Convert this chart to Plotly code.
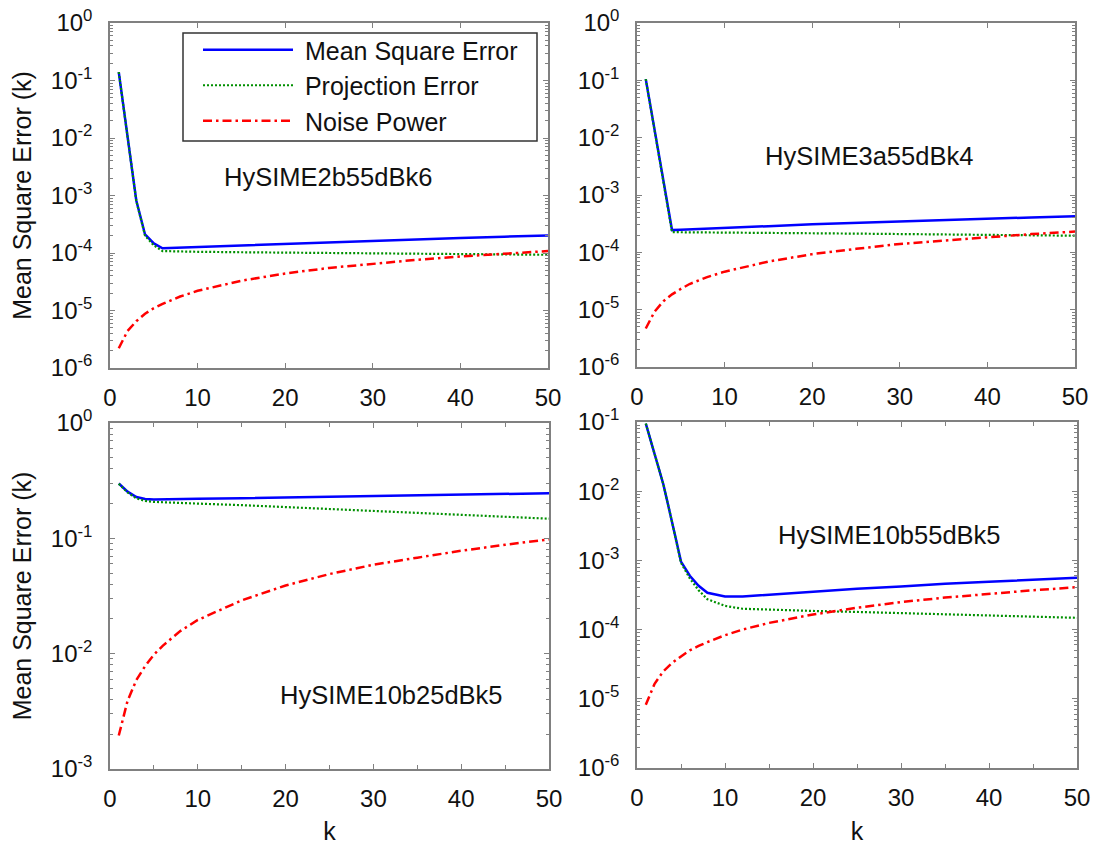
import plotly.graph_objects as go

# ---- HySIME2b55dBk6 ----
k_a = [1, 2, 3, 4, 5, 6, 8, 10, 15, 20, 25, 30, 35, 40, 45, 50]
mse_a = [0.14, 1.05e-2, 8.2e-4, 2.1e-4, 1.47e-4, 1.21e-4, 1.24e-4, 1.27e-4, 1.37e-4,
         1.46e-4, 1.55e-4, 1.64e-4, 1.73e-4, 1.83e-4, 1.92e-4, 2.01e-4]
proj_a = [0.14, 1.04e-2, 8.1e-4, 2.0e-4, 1.36e-4, 1.08e-4, 1.06e-4, 1.05e-4, 1.03e-4,
          1.02e-4, 1.0e-4, 9.9e-5, 9.75e-5, 9.6e-5, 9.45e-5, 9.3e-5]
noise_a = [2.2e-6, 4.4e-6, 6.5e-6, 8.8e-6, 1.1e-5, 1.3e-5, 1.75e-5, 2.2e-5, 3.3e-5,
           4.4e-5, 5.5e-5, 6.5e-5, 7.6e-5, 8.7e-5, 9.8e-5, 1.08e-4]

# ---- HySIME3a55dBk4 ----
k_b = [1, 2, 3, 4, 5, 6, 8, 10, 15, 20, 25, 30, 35, 40, 45, 50]
mse_b = [0.105, 1.35e-2, 1.76e-3, 2.44e-4, 2.47e-4, 2.5e-4, 2.57e-4, 2.66e-4, 2.86e-4,
         3.08e-4, 3.27e-4, 3.48e-4, 3.66e-4, 3.87e-4, 4.06e-4, 4.25e-4]
proj_b = [0.105, 1.35e-2, 1.75e-3, 2.25e-4, 2.24e-4, 2.23e-4, 2.21e-4, 2.2e-4, 2.17e-4,
          2.15e-4, 2.12e-4, 2.08e-4, 2.05e-4, 2.02e-4, 1.98e-4, 1.95e-4]
noise_b = [4.7e-6, 9.2e-6, 1.4e-5, 1.85e-5, 2.3e-5, 2.8e-5, 3.7e-5, 4.6e-5, 6.9e-5,
           9.3e-5, 1.15e-4, 1.4e-4, 1.6e-4, 1.85e-4, 2.08e-4, 2.3e-4]

# ---- HySIME10b25dBk5 ----
k_c = [1, 2, 3, 4, 5, 6, 8, 10, 15, 20, 25, 30, 35, 40, 45, 50]
mse_c = [0.299, 0.254, 0.228, 0.219, 0.217, 0.217, 0.218, 0.220, 0.223,
         0.226, 0.229, 0.233, 0.235, 0.239, 0.242, 0.246]
proj_c = [0.297, 0.250, 0.222, 0.211, 0.207, 0.205, 0.202, 0.200, 0.194,
          0.187, 0.180, 0.174, 0.167, 0.161, 0.154, 0.148]
noise_c = [1.95e-3, 3.9e-3, 5.9e-3, 7.8e-3, 9.8e-3, 1.17e-2, 1.57e-2, 1.96e-2, 2.9e-2,
           3.9e-2, 4.9e-2, 5.9e-2, 6.8e-2, 7.8e-2, 8.8e-2, 9.8e-2]

# ---- HySIME10b55dBk5 ----
k_d = [1, 2, 3, 4, 5, 6, 7, 8, 10, 12, 15, 20, 25, 30, 35, 40, 45, 50]
mse_d = [0.095, 3.4e-2, 1.25e-2, 3.5e-3, 9.6e-4, 6.0e-4, 4.3e-4, 3.4e-4, 3.0e-4, 3.0e-4,
         3.2e-4, 3.5e-4, 3.9e-4, 4.2e-4, 4.6e-4, 4.9e-4, 5.25e-4, 5.6e-4]
proj_d = [0.095, 3.4e-2, 1.25e-2, 3.5e-3, 9.2e-4, 5.5e-4, 3.7e-4, 2.75e-4, 2.2e-4, 2.0e-4,
          1.93e-4, 1.86e-4, 1.8e-4, 1.73e-4, 1.68e-4, 1.62e-4, 1.55e-4, 1.48e-4]
noise_d = [8.2e-6, 1.65e-5, 2.5e-5, 3.3e-5, 4.1e-5, 5.0e-5, 5.8e-5, 6.6e-5, 8.3e-5, 1.0e-4,
           1.25e-4, 1.65e-4, 2.07e-4, 2.5e-4, 2.9e-4, 3.3e-4, 3.7e-4, 4.1e-4]

panel_names = ["HySIME2b55dBk6", "HySIME3a55dBk4", "HySIME10b25dBk5", "HySIME10b55dBk5"]
series_names = ["Mean Square Error", "Projection Error", "Noise Power"]
x_ticks = [0, 10, 20, 30, 40, 50]
y_title = "Mean Square Error (k)"
x_title = "k"

panels = [
    (k_a, mse_a, proj_a, noise_a),
    (k_b, mse_b, proj_b, noise_b),
    (k_c, mse_c, proj_c, noise_c),
    (k_d, mse_d, proj_d, noise_d),
]
# decade exponent range for each panel's y axis
y_ranges = [(-6, 0), (-6, 0), (-3, 0), (-6, -1)]

FONT = "Arial, Liberation Sans, sans-serif"
W, H = 1096, 845

# pixel boxes of the four plot areas (left, right, top, bottom)
boxes = [(110, 548, 23, 368), (637, 1075, 23, 367),
         (110, 549, 423, 769), (637, 1077, 422, 768)]

styles = [
    dict(color="#0000ff", width=2.5, dash="solid"),
    dict(color="#009000", width=2.2, dash="2px,2px"),
    dict(color="#ff0000", width=2.5, dash="9px,4px,2.5px,4px"),
]

fig = go.Figure()
layout = dict(
    width=W, height=H,
    margin=dict(l=0, r=0, t=0, b=0, autoexpand=False),
    paper_bgcolor="white", plot_bgcolor="white",
    font=dict(family=FONT, size=24, color="#111111"),
    showlegend=True,
)

label_pos = [(0.498, 0.553), (0.529, 0.614), (0.642, 0.214), (0.574, 0.673)]
annotations = []

for i, (ks, mse, proj, noise) in enumerate(panels):
    n = i + 1
    xa = "x" if n == 1 else f"x{n}"
    ya = "y" if n == 1 else f"y{n}"
    for j, vals in enumerate([mse, proj, noise]):
        fig.add_trace(go.Scatter(
            x=ks, y=vals, mode="lines", name="\u00a0" + series_names[j],
            line=styles[j], xaxis=xa, yaxis=ya,
            showlegend=(i == 0),
        ))
    l, r, t, b = boxes[i]
    lo, hi = y_ranges[i]
    yvals = [10.0 ** e for e in range(lo, hi + 1)]
    ytext = [f"10<sup>{e}</sup>" for e in range(lo, hi + 1)]
    yminor = [m * 10.0 ** e for e in range(lo, hi) for m in range(2, 10)]
    bottom_row = i >= 2
    left_col = i % 2 == 0
    xkey = "xaxis" if n == 1 else f"xaxis{n}"
    ykey = "yaxis" if n == 1 else f"yaxis{n}"
    layout[xkey] = dict(
        domain=[l / W, r / W], anchor=ya, range=[0, 50], automargin=False,
        tickmode="array", tickvals=x_ticks, ticktext=[str(v) for v in x_ticks],
        ticks="inside", ticklen=5, tickcolor="#808080", tickwidth=1,
        showline=True, linecolor="#808080", linewidth=1.5, mirror="ticks",
        showgrid=False, zeroline=False, ticklabelstandoff=7,
        tickfont=dict(size=24, color="#111111"),
        minor=dict(tickvals=[5, 15, 25, 35, 45], ticks="inside", ticklen=4,
                   tickcolor="#808080", showgrid=False) if bottom_row else None,
        title=dict(text=x_title if bottom_row else "", font=dict(size=25), standoff=20),
    )
    layout[ykey] = dict(
        domain=[1 - b / H, 1 - t / H], anchor=xa, type="log", range=[lo, hi],
        automargin=False,
        tickmode="array", tickvals=yvals, ticktext=ytext,
        ticks="inside", ticklen=5, tickcolor="#808080", tickwidth=1,
        showline=True, linecolor="#808080", linewidth=1.5, mirror="ticks",
        showgrid=False, zeroline=False, ticklabelstandoff=11,
        tickfont=dict(size=24, color="#111111"),
        minor=dict(tickvals=yminor, ticks="inside", ticklen=3, tickcolor="#808080",
                   showgrid=False),
        title=dict(text=y_title if left_col else "", font=dict(size=25), standoff=12),
    )
    ax, ay = label_pos[i]
    annotations.append(dict(
        text=panel_names[i], showarrow=False,
        xref=f"{xa} domain", yref=f"{ya} domain", x=ax, y=ay,
        xanchor="center", yanchor="middle", font=dict(size=25.5, color="#111111"),
    ))

layout["annotations"] = annotations
# legend entries without their own frame; the frame is a separate rectangle
layout["legend"] = dict(
    x=198 / W, y=1 - 27 / H, xanchor="left", yanchor="top",
    bgcolor="rgba(0,0,0,0)", borderwidth=0,
    font=dict(size=25, color="#111111"), itemwidth=90,
    tracegroupgap=0,
)
layout["shapes"] = [dict(
    type="rect", xref="paper", yref="paper",
    x0=183 / W, x1=537 / W, y0=1 - 141 / H, y1=1 - 33 / H,
    line=dict(color="#333333", width=1.5), fillcolor="rgba(0,0,0,0)", layer="above",
)]
fig.update_layout(**layout)
fig.write_html("out.html")
